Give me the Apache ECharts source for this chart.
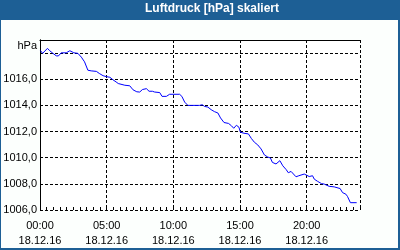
<!DOCTYPE html>
<html>
<head>
<meta charset="utf-8">
<script src="https://cdn.jsdelivr.net/npm/echarts@6/dist/echarts.min.js"></script>
<style>
html,body{margin:0;padding:0;background:#fff;}
#c{width:400px;height:250px;}
</style>
</head>
<body>
<div id="c"></div>
<script>
// Time of day in hours (18.12.16)
const hours = [0.04,0.2,0.35,0.56,0.73,0.97,1.22,1.38,1.59,1.97,2.24,2.36,2.54,2.84,3.1,3.34,3.59,3.84,4.23,4.45,4.6,4.73,4.97,5.24,5.47,5.71,5.87,5.98,6.36,6.73,6.98,7.26,7.48,7.68,7.98,8.18,8.43,8.6,8.98,9.15,9.48,9.72,10.47,10.64,10.85,11.09,11.97,12.17,12.34,12.59,12.84,13.09,13.34,13.54,13.8,14.14,14.36,14.53,14.73,14.92,15.03,15.3,15.63,15.86,16.08,16.33,16.58,16.83,17.08,17.28,17.43,17.7,17.99,18.21,18.47,18.62,18.83,18.96,19.2,19.41,19.56,19.82,19.97,20.19,20.44,20.57,20.82,21.11,21.32,21.69,21.82,22.06,22.21,22.51,22.69,22.94,23.06,23.28,23.75];
// Air pressure in hPa
const pressure = [1018.18,1017.98,1017.98,1018.36,1018.18,1017.98,1017.79,1017.78,1018.02,1018.02,1018.18,1018.15,1018.02,1017.98,1017.69,1017.33,1016.69,1016.64,1016.6,1016.44,1016.5,1016.27,1016.2,1016.15,1015.96,1015.79,1015.67,1015.59,1015.54,1015.5,1015.19,1015.04,1015.02,1015.21,1015.28,1015.08,1015.08,1015.02,1014.98,1014.69,1014.69,1014.85,1014.85,1014.69,1014.25,1014.0,1014.0,1014.05,1013.92,1013.87,1013.67,1013.52,1013.42,1013.04,1012.69,1012.62,1012.44,1012.25,1012.48,1012.33,1011.95,1011.87,1011.82,1011.46,1011.18,1010.98,1010.67,1010.21,1010.05,1009.98,1009.64,1009.52,1009.77,1009.38,1009.08,1008.85,1008.95,1008.87,1008.54,1008.62,1008.77,1008.75,1008.62,1008.56,1008.62,1008.36,1008.19,1008.02,1007.98,1007.81,1007.96,1007.77,1007.72,1007.64,1007.33,1007.21,1007.04,1006.56,1006.56];
const xTickHours = [0, 5, 10, 15, 20];
const dateLabel = '18.12.16';
const yLabelValues = [1006, 1008, 1010, 1012, 1014, 1016];
const titleText = 'Luftdruck [hPa] skaliert';
const unitText = 'hPa';

const FONT = '"Liberation Sans", Arial, sans-serif';
const data = hours.map((h, i) => [h, pressure[i]]);
const pad = n => (n < 10 ? '0' : '') + n;
const dash = [3, 2];

const chart = echarts.init(document.getElementById('c'), null, {renderer: 'canvas'});
chart.setOption({
  animation: false,
  backgroundColor: '#1d5f95',
  title: {
    text: titleText, left: 145, top: 3, padding: 0,
    textStyle: {color: '#ffffff', fontWeight: 'bold', fontSize: 12, fontFamily: FONT}
  },
  graphic: [
    {type: 'rect', z: -10, shape: {x: 1, y: 20, width: 397, height: 228}, style: {fill: '#fcfffd'}},
    {type: 'rect', z: -9, shape: {x: 40, y: 40, width: 320, height: 170}, style: {fill: '#ffffff'}},
    {type: 'text', x: 37, y: 46, style: {text: unitText, fill: '#000', font: '11px ' + FONT, align: 'right', verticalAlign: 'middle'}}
  ],
  grid: {left: 40, top: 40, right: 40, bottom: 40, containLabel: false},
  xAxis: [
    {
      type: 'value', min: 0, max: 24, interval: 5, position: 'bottom',
      axisLine: {show: false}, axisTick: {show: false},
      axisLabel: {
        showMaxLabel: false, margin: 9, color: '#000', fontSize: 11, fontFamily: FONT, lineHeight: 14.5,
        formatter: v => (xTickHours.indexOf(v) >= 0 ? pad(v) + ':00\n' + dateLabel : '')
      },
      splitLine: {show: true, lineStyle: {color: '#000', width: 1, type: dash}}
    },
    {
      type: 'value', min: 0, max: 24, interval: 0.5, position: 'bottom',
      axisLine: {show: false},
      axisTick: {show: true, inside: true, length: 3, lineStyle: {color: '#000', width: 1}},
      axisLabel: {show: false}, splitLine: {show: false}
    },
    {
      type: 'value', min: 0, max: 24, position: 'top',
      axisLine: {show: true, lineStyle: {color: '#000', width: 1}},
      axisTick: {show: false}, axisLabel: {show: false}, splitLine: {show: false}
    }
  ],
  yAxis: [
    {
      type: 'value', min: 1006, max: 1019, interval: 2, position: 'left',
      axisLine: {show: true, lineStyle: {color: '#000', width: 1}}, axisTick: {show: false},
      axisLabel: {
        margin: 3, color: '#000', fontSize: 11, fontFamily: FONT,
        formatter: v => (yLabelValues.indexOf(v) >= 0 ? v.toFixed(1).replace('.', ',') : '')
      },
      splitLine: {show: true, lineStyle: {color: '#000', width: 1, type: dash}}
    },
    {
      type: 'value', min: 1006, max: 1019, position: 'right',
      axisLine: {show: true, lineStyle: {color: '#000', width: 1}},
      axisTick: {show: false}, axisLabel: {show: false}, splitLine: {show: false}
    }
  ],
  series: [{
    type: 'line', data: data, xAxisIndex: 0, yAxisIndex: 0,
    showSymbol: false, symbol: 'none',
    lineStyle: {color: '#0000ff', width: 1}, z: 5
  }]
});
</script>
</body>
</html>
